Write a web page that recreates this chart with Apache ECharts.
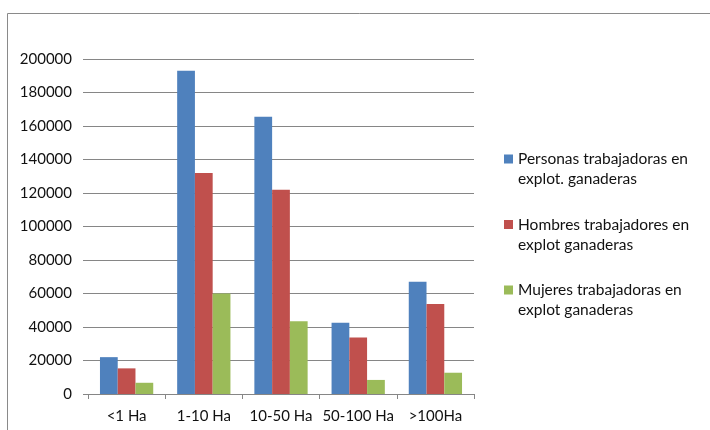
<!DOCTYPE html>
<html><head><meta charset="utf-8">
<script src="https://cdn.jsdelivr.net/npm/echarts@6/dist/echarts.min.js"></script>
<style>html,body{margin:0;padding:0;background:#fff}#c{width:710px;height:430px}</style>
</head><body><div id="c"></div>
<script>
var categories = ['<1 Ha', '1-10 Ha', '10-50 Ha', '50-100 Ha', '>100Ha'];
var personas = [22000, 193000, 165500, 42500, 67000];
var hombres = [15300, 132000, 122000, 33800, 53700];
var mujeres = [6700, 60000, 43500, 8400, 12700];
var seriesNames = ['Personas trabajadoras en\nexplot. ganaderas', 'Hombres trabajadores en\nexplot ganaderas', 'Mujeres trabajadoras en\nexplot ganaderas'];
var yTicks = [0, 20000, 40000, 60000, 80000, 100000, 120000, 140000, 160000, 180000, 200000];

var font = 'Lato, "Open Sans", sans-serif';
var chart = echarts.init(document.getElementById('c'));
var colors = ['#4F81BD', '#C0504D', '#9BBB59'];
function mk(name, data, color) {
  return { name: name, type: 'bar', data: data, barGap: '0%', barCategoryGap: '31%',
    itemStyle: { color: color } };
}
chart.setOption({
  animation: false,
  graphic: [{ type: 'rect', shape: { x: 7.5, y: 13.5, width: 720, height: 440 },
    style: { fill: 'none', stroke: '#8a8a8a', lineWidth: 1 }, silent: true }],
  grid: { left: 88, right: 236, top: 59, bottom: 36 },
  legend: {
    orient: 'vertical', left: 499, top: 144, itemGap: 25.5,
    icon: 'path://M0,0L9,0L9,9L0,9Z M0,29L0.01,29L0.01,29.01Z',
    itemWidth: 9, itemHeight: 29,
    textStyle: { fontFamily: font, fontSize: 15.5, color: '#111', lineHeight: 20 },
    data: seriesNames
  },
  xAxis: {
    type: 'category', data: categories,
    axisLine: { lineStyle: { color: '#868686' } },
    axisTick: { show: true, length: 5, lineStyle: { color: '#868686' } },
    axisLabel: { fontFamily: font, fontSize: 15, color: '#111', margin: 15, interval: 0 }
  },
  yAxis: {
    type: 'value', min: yTicks[0], max: yTicks[yTicks.length - 1], interval: 20000,
    axisLine: { show: false },
    axisTick: { show: true, length: 5, lineStyle: { color: '#868686' } },
    splitLine: { lineStyle: { color: '#868686' } },
    axisLabel: { fontFamily: font, fontSize: 15, color: '#111', margin: 16, formatter: function (v) { return String(v); } }
  },
  series: [mk(seriesNames[0], personas, colors[0]), mk(seriesNames[1], hombres, colors[1]), mk(seriesNames[2], mujeres, colors[2])]
});
</script></body></html>
